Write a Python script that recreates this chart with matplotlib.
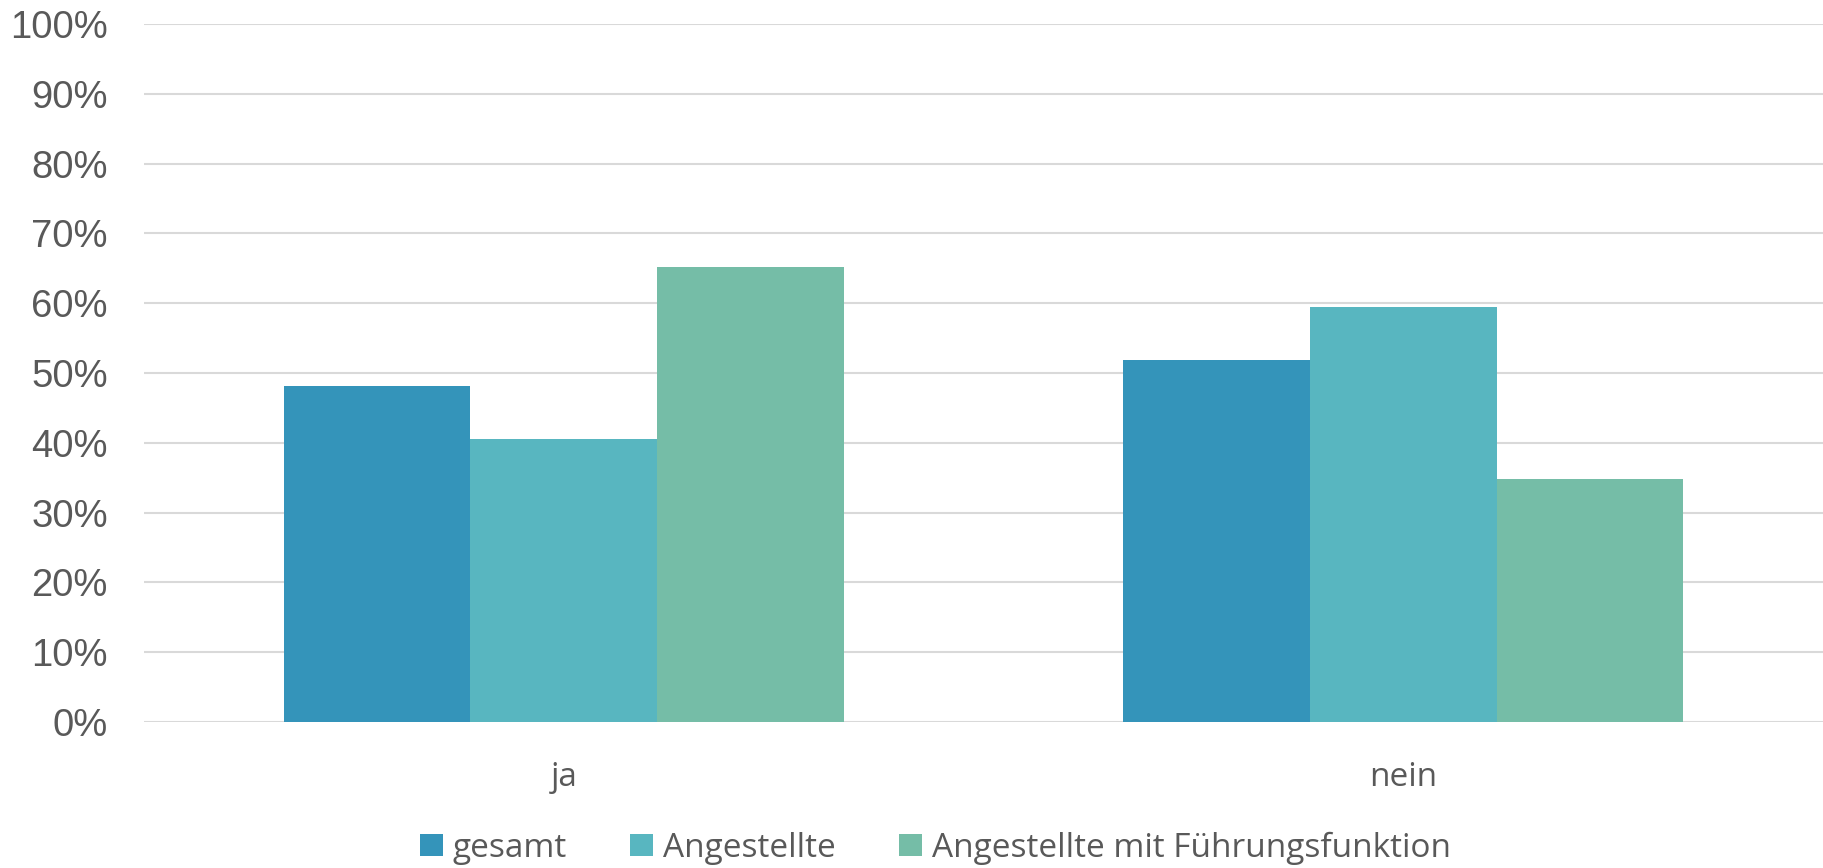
import numpy as np
import matplotlib.pyplot as plt

# Einstellungen
plt.rcParams['font.family'] = 'Liberation Sans'
plt.rcParams['savefig.dpi'] = 100

kategorien = ['ja', 'nein']
gruppen = ['gesamt', 'Angestellte', 'Angestellte mit Führungsfunktion']
gesamt = [48.1, 51.9]
angestellte = [40.6, 59.4]
fuehrung = [65.2, 34.8]
farben = ['#3494BA', '#58B6C0', '#75BDA7']
text_farbe = '#595959'

fig = plt.figure(figsize=(18.23, 8.68))
ax = fig.add_axes([0.079, 0.1682, 0.921, 0.8042])

x = np.arange(len(kategorien))
breite = 2 / 9
for i, (werte, name) in enumerate(zip([gesamt, angestellte, fuehrung], gruppen)):
    ax.bar(x + (i - 1) * breite, werte, breite, color=farben[i], label=name,
           zorder=3)

ax.set_xlim(-0.5, 1.5)
ax.set_ylim(0, 100)
ax.set_yticks(np.arange(0, 101, 10))
ax.set_yticklabels([f'{v}%' for v in range(0, 101, 10)], fontsize=27.5,
                   color=text_farbe)
ax.set_xticks(x)
ax.set_xticklabels(kategorien, fontsize=24, color=text_farbe,
                   family='Open Sans')
ax.tick_params(axis='both', length=0)
ax.tick_params(axis='y', pad=26)
ax.tick_params(axis='x', pad=28)
ax.grid(axis='y', color='#D9D9D9', linewidth=1.5, zorder=0)
for s in ax.spines.values():
    s.set_visible(False)

leg = fig.legend(loc='center', bbox_to_anchor=(0.513, 0.023), ncol=3,
                 frameon=False, handlelength=0.68, handleheight=0.68,
                 handletextpad=0.3, columnspacing=1.9,
                 prop={'family': 'Open Sans', 'size': 24})
for t in leg.get_texts():
    t.set_color(text_farbe)

plt.savefig('out.png')
